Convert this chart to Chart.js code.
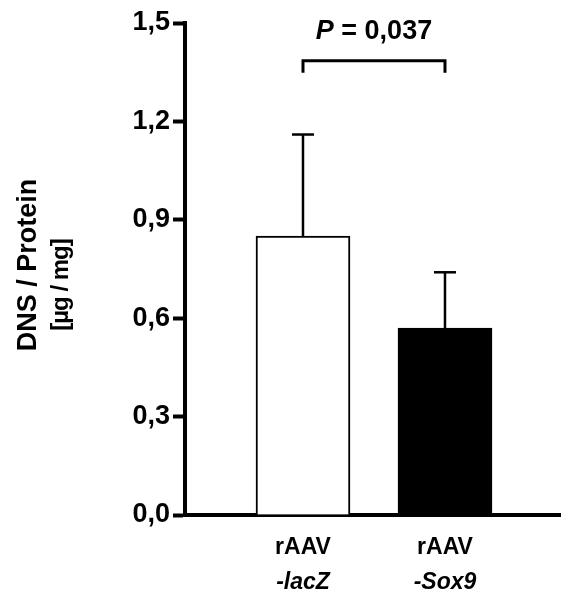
<!DOCTYPE html>
<html>
<head>
<meta charset="utf-8">
<script src="https://cdn.jsdelivr.net/npm/chart.js@4.4.1/dist/chart.umd.min.js"></script>
<style>
  html, body { margin: 0; padding: 0; background: #fff; }
  #c { display: block; }
</style>
</head>
<body>
<canvas id="c" width="562" height="593"></canvas>
<script>
// ---- data ----
const categoryLine1 = ['rAAV', 'rAAV'];
const categoryLine2 = ['-lacZ', '-Sox9'];
const categoryPos = [1, 2];
const means = [0.85, 0.57];
const sdUpper = [0.31, 0.17];
const barColors = ['#ffffff', '#000000'];
const yTickValues = [0, 0.3, 0.6, 0.9, 1.2, 1.5];
const yTitleLine1 = 'DNS / Protein';
const yTitleLine2 = '[µg / mg]';
const pLabel = 'P';
const pRest = ' = 0,037';
const bracketLevel = 1.385;

const FONT = "'Liberation Sans', Arial, Helvetica, sans-serif";

const overlay = {
  id: 'overlay',
  afterDraw(chart) {
    const { ctx, scales: { x, y } } = chart;
    ctx.save();
    ctx.strokeStyle = '#000';
    ctx.fillStyle = '#000';

    // error bars (upper only)
    means.forEach((m, i) => {
      const cx = x.getPixelForValue(categoryPos[i]);
      const base = y.getPixelForValue(m);
      const top = y.getPixelForValue(m + sdUpper[i]);
      ctx.lineWidth = 2.5;
      ctx.beginPath();
      ctx.moveTo(cx, base);
      ctx.lineTo(cx, top);
      ctx.stroke();
      ctx.beginPath();
      ctx.moveTo(cx - 11, top);
      ctx.lineTo(cx + 11, top);
      ctx.stroke();
    });

    // category labels
    ctx.textAlign = 'center';
    ctx.textBaseline = 'alphabetic';
    categoryPos.forEach((p, i) => {
      const cx = x.getPixelForValue(p);
      ctx.font = 'bold 23px ' + FONT;
      ctx.fillText(categoryLine1[i], cx, y.bottom + 39);
      ctx.font = 'italic bold 23px ' + FONT;
      ctx.fillText(categoryLine2[i], cx, y.bottom + 74);
    });

    // significance bracket
    const x1 = x.getPixelForValue(categoryPos[0]);
    const x2 = x.getPixelForValue(categoryPos[1]);
    const by = y.getPixelForValue(bracketLevel);
    ctx.lineWidth = 3;
    ctx.lineJoin = 'miter';
    ctx.beginPath();
    ctx.moveTo(x1, by + 12);
    ctx.lineTo(x1, by);
    ctx.lineTo(x2, by);
    ctx.lineTo(x2, by + 12);
    ctx.stroke();

    // P value text
    ctx.textAlign = 'left';
    ctx.font = 'italic bold 27px ' + FONT;
    const w1 = ctx.measureText(pLabel).width;
    ctx.font = 'bold 27px ' + FONT;
    const w2 = ctx.measureText(pRest).width;
    const startX = (x1 + x2) / 2 - (w1 + w2) / 2;
    ctx.font = 'italic bold 27px ' + FONT;
    ctx.fillText(pLabel, startX, 39);
    ctx.font = 'bold 27px ' + FONT;
    ctx.fillText(pRest, startX + w1, 39);

    // y-axis title
    ctx.textAlign = 'center';
    ctx.save();
    ctx.translate(36, 265);
    ctx.rotate(-Math.PI / 2);
    ctx.font = 'bold 27px ' + FONT;
    ctx.fillText(yTitleLine1, 0, 0);
    ctx.restore();
    ctx.save();
    ctx.translate(68, 285);
    ctx.rotate(-Math.PI / 2);
    ctx.font = 'bold 24px ' + FONT;
    try { ctx.letterSpacing = '-1px'; } catch (e) {}
    ctx.fillText(yTitleLine2, 0, 0);
    ctx.restore();

    ctx.restore();
  }
};

new Chart(document.getElementById('c'), {
  type: 'bar',
  data: {
    datasets: [{
      data: categoryPos.map((p, i) => ({ x: p, y: means[i] })),
      backgroundColor: barColors,
      borderColor: '#000',
      borderWidth: 2,
      borderSkipped: 'start',
      barThickness: 94
    }]
  },
  options: {
    responsive: false,
    animation: false,
    devicePixelRatio: 1,
    layout: { padding: { top: 23, right: 2, left: 0, bottom: 0 } },
    plugins: { legend: { display: false }, tooltip: { enabled: false } },
    scales: {
      x: {
        type: 'linear',
        min: 0.169,
        max: 2.81,
        offset: false,
        z: 1,
        grid: { display: false, drawTicks: false },
        border: { display: true, color: '#000', width: 4 },
        ticks: { display: false },
        afterFit(s) { s.height = 78; }
      },
      y: {
        min: 0,
        max: 1.5,
        z: 1,
        afterBuildTicks(s) { s.ticks = yTickValues.map(v => ({ value: v })); },
        grid: {
          display: true,
          drawOnChartArea: false,
          drawTicks: true,
          tickLength: 12,
          tickWidth: 4,
          tickColor: '#000',
          color: '#000'
        },
        border: { display: true, color: '#000', width: 4 },
        ticks: {
          padding: 3,
          color: '#000',
          font: { family: FONT, size: 27, weight: 'bold' },
          callback: (v) => v.toFixed(1).replace('.', ',')
        },
        afterFit(s) { s.width = 185; }
      }
    }
  },
  plugins: [overlay]
});
</script>
</body>
</html>
